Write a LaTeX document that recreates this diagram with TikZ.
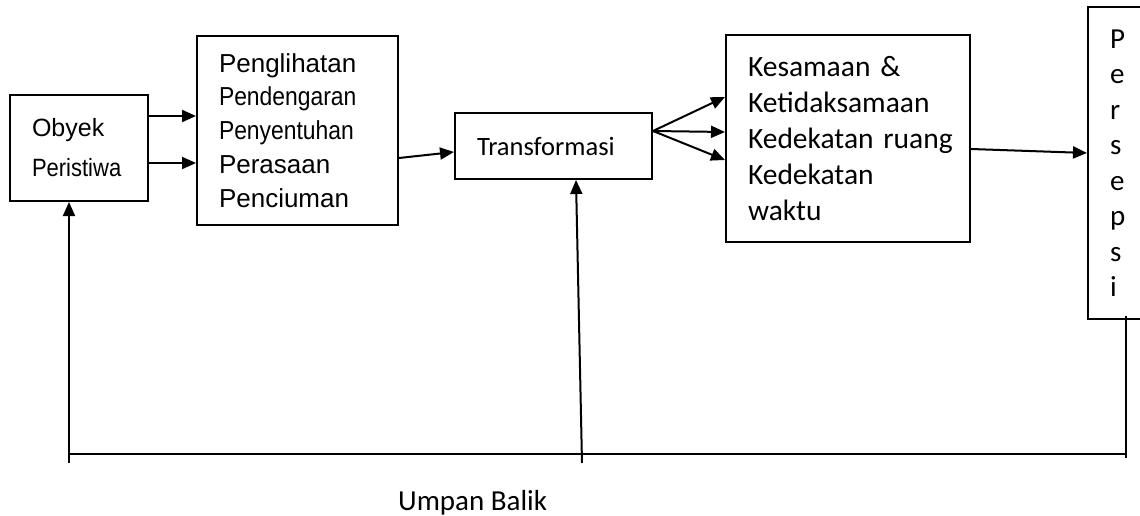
\documentclass[tikz,border=0pt]{standalone}
\usepackage{fontspec}
\setmainfont{Carlito}
\newfontfamily\arial{Liberation Sans}
\newfontfamily\arialsempit[FakeStretch=0.88]{Liberation Sans}
\usetikzlibrary{arrows.meta}

\begin{document}
\begin{tikzpicture}[x=1pt,y=-1pt,
  kotak/.style={draw,line width=2pt,inner xsep=22pt,inner ysep=0pt,align=left},
  panah/.style={line width=2pt,-{Triangle[length=14pt,width=12pt]}}]
\useasboundingbox (0,0) rectangle (1140,516);

% kotak-kotak proses
\node[kotak,text width=94pt,minimum height=106pt,font=\arial\fontsize{25}{40}\selectfont] (obyek) at (79,148)
  {Obyek\\
   {\arialsempit Peristiwa}};
\node[kotak,text width=157pt,minimum height=189pt,font=\arial\fontsize{26}{33.3}\selectfont] (indera) at (297.5,130.5)
  {Penglihatan\\
   {\arialsempit Pendengaran}\\
   {\arialsempit Penyentuhan}\\[1.5pt]
   Perasaan\\
   Penciuman};
\node[kotak,text width=153pt,minimum height=66pt,font=\fontsize{26.5}{32}\selectfont] (transformasi) at (553.5,146)
  {Transformasi};
\node[kotak,text width=200pt,minimum height=207pt,font=\fontsize{29.5}{36}\selectfont] (kesamaan) at (848,138.5)
  {Kesamaan \&\\
   Ketidaksamaan\\
   \mbox{Kedekatan ruang}\\
   Kedekatan\\
   waktu};
\node[kotak,text width=18pt,minimum height=312pt,font=\fontsize{29}{35.5}\selectfont] (persepsi) at (1119,163)
  {P\\e\\r\\s\\e\\p\\s\\i};

% panah maju
\draw[panah] ([yshift=32pt]obyek.east) -- ([yshift=32pt]obyek.east -| indera.west);
\draw[panah] ([yshift=-15pt]obyek.east) -- ([yshift=-15pt]obyek.east -| indera.west);
\draw[panah] ([yshift=-27.5pt]indera.east) -- ([yshift=-6pt]transformasi.west);
\foreach \dy in {41.5,6.5,-21.5}
  \draw[panah] ([yshift=15pt]transformasi.east) -- ([yshift=\dy pt]kesamaan.west);
\draw[panah] ([yshift=-10.5pt]kesamaan.east) -- ([yshift=10pt]persepsi.west);

% umpan balik
\coordinate (kiri) at (69,463);
\coordinate (tengah) at (582,463);
\coordinate (kanan) at (1126,458);
\coordinate (garisKiri) at (69,454);
\coordinate (garisKanan) at (1126,454);
\draw[line width=1.5pt] (garisKiri) -- (garisKanan);
\draw[panah] (kiri) -- ([xshift=-10pt]obyek.south);
\draw[panah] (tengah) -- ([xshift=22.5pt]transformasi.south);
\draw[line width=2pt] (kanan) -- ([xshift=7pt,yshift=4pt]persepsi.south);

\node[anchor=base west,inner sep=0pt,font=\fontsize{29}{35}\selectfont] (umpan) at (398,510) {Umpan Balik};
\end{tikzpicture}
\end{document}
